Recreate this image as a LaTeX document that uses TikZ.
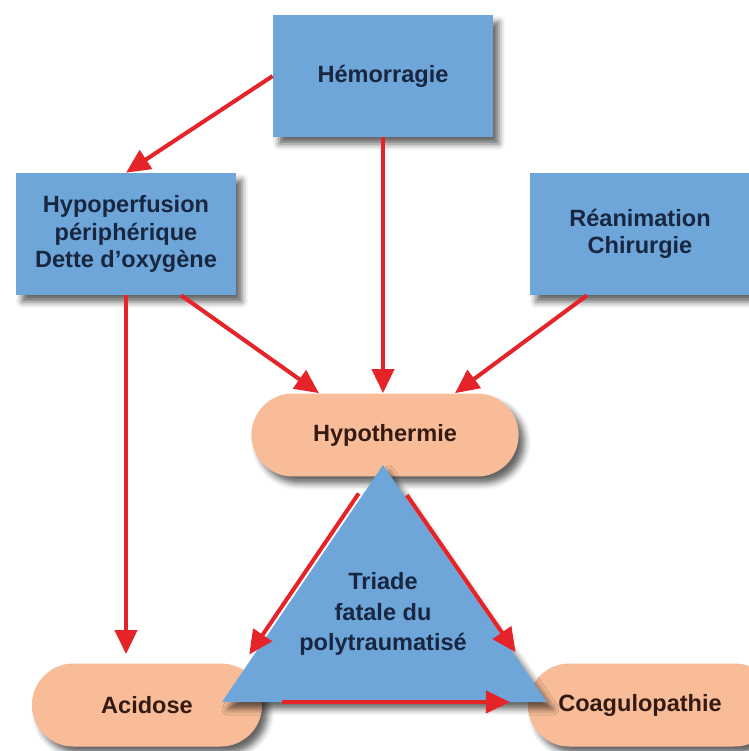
\documentclass[tikz,border=0pt]{standalone}
\usepackage{fontspec}
\setmainfont{Liberation Sans}
\usetikzlibrary{arrows.meta}
\usetikzlibrary{shapes.misc}
\usetikzlibrary{shadows.blur}
\usetikzlibrary{calc}
\usetikzlibrary{positioning}

\definecolor{boxblue}{RGB}{110,166,218}
\definecolor{pillpeach}{RGB}{248,189,152}
\definecolor{arrowred}{RGB}{228,36,40}
\definecolor{bluetext}{RGB}{24,38,64}
\definecolor{pilltext}{RGB}{52,26,18}

\tikzset{
  labelfont/.style={font=\bfseries\fontsize{13.4}{15.6}\selectfont},
  softshadow/.style={blur shadow={shadow xshift=0.12cm, shadow yshift=-0.14cm,
      shadow blur radius=0.12cm, shadow opacity=60}},
  cause/.style={rectangle, fill=boxblue, minimum width=4.4cm, minimum height=2.44cm,
      align=center, text=bluetext, labelfont, softshadow},
  effect/.style={rounded rectangle, fill=pillpeach, minimum height=1.66cm,
      text=pilltext, labelfont, softshadow},
  redarrow/.style={draw=arrowred, line width=2.3pt,
      -{Triangle[length=0.48cm,width=0.44cm]}},
}

\begin{document}
\begin{tikzpicture}[x=0.02cm, y=-0.02cm]
  \useasboundingbox (0,0) rectangle (749,751);

  % causes
  \node[cause] (hemo) at (383,76) {Hémorragie};
  \node[cause] (hypoperf) at (126,234) {Hypoperfusion\\périphérique\\Dette d'oxygène};
  \node[cause] (reanim) at (640,234) {Réanimation\\Chirurgie};

  % the three effects
  \node[effect, minimum width=5.58cm] (hypoth) at (385,435) {Hypothermie};
  \node[effect, minimum width=4.84cm] (acid) at (147,705) {Acidose};
  \node[effect, minimum width=5.2cm] (coag) at (652,705) {Coagulopathie\hspace*{0.48cm}};

  % triad
  \coordinate (apex) at (383,465);
  \coordinate (lcorner) at (222,702);
  \coordinate (rcorner) at (547,702);
  \fill[boxblue, softshadow] (apex) -- (lcorner) -- (rcorner) -- cycle;
  \node[text=bluetext, align=center,
        font=\bfseries\fontsize{13.4}{17.5}\selectfont] (triade) at (383,614)
        {Triade\\fatale du\\polytraumatisé};

  \draw[redarrow] (hemo.west) -- (hypoperf.north);
  \draw[redarrow] (hemo.south) -- (hemo.south |- hypoth.north);
  \draw[redarrow] ($(hypoperf.south)!0.5!(hypoperf.south east)$) -- ([xshift=-1.32cm]hypoth.north);
  \draw[redarrow] ([xshift=-1.06cm]reanim.south) -- ([xshift=1.4cm]hypoth.north);
  \draw[redarrow, shorten >=0.18cm] (hypoperf.south) -- (hypoperf.south |- acid.north);

  \draw[redarrow] ([xshift=-0.1cm]$(apex)!0.12!(lcorner)$) -- ([xshift=-0.1cm]$(apex)!0.8!(lcorner)$);
  \draw[redarrow] ([xshift=0.06cm]$(apex)!0.127!(rcorner)$) -- ([xshift=0.06cm]$(apex)!0.79!(rcorner)$);
  \draw[redarrow] ($(lcorner)!0.185!(rcorner)$) -- ($(lcorner)!0.886!(rcorner)$);
\end{tikzpicture}
\end{document}
